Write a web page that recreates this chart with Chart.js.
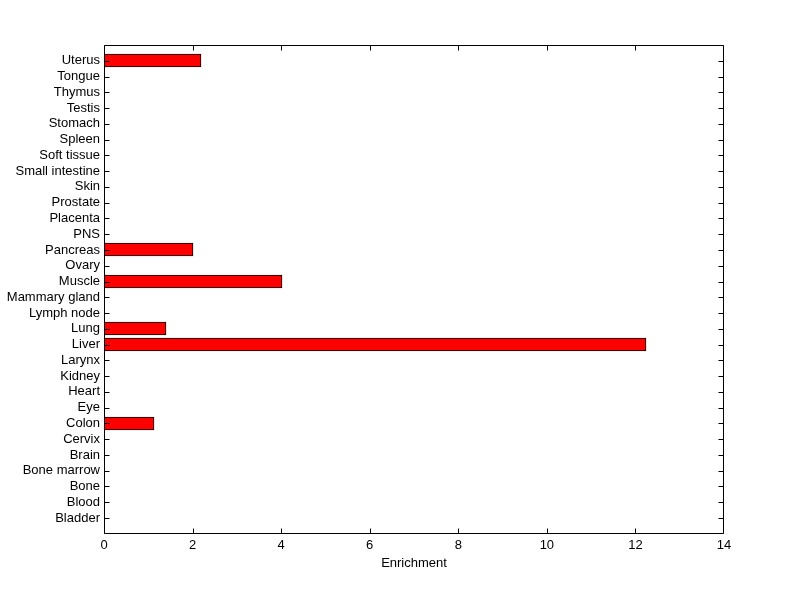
<!DOCTYPE html>
<html>
<head>
<meta charset="utf-8">
<script src="https://cdn.jsdelivr.net/npm/chart.js@4/dist/chart.umd.min.js"></script>
<style>
  html, body { margin: 0; background: #fff; }
  #wrap { width: 800px; height: 599px; }
</style>
</head>
<body>
<div id="wrap"><canvas id="enrichmentChart"></canvas></div>
<script>
// tissues listed bottom to top, as on the picture
const tissues = ['Bladder', 'Blood', 'Bone', 'Bone marrow', 'Brain', 'Cervix', 'Colon', 'Eye', 'Heart',
    'Kidney', 'Larynx', 'Liver', 'Lung', 'Lymph node', 'Mammary gland', 'Muscle', 'Ovary', 'Pancreas',
    'PNS', 'Placenta', 'Prostate', 'Skin', 'Small intestine', 'Soft tissue', 'Spleen', 'Stomach',
    'Testis', 'Thymus', 'Tongue', 'Uterus'];
const enrichment = [0, 0, 0, 0, 0, 0, 1.12, 0, 0, 0, 0, 12.23, 1.39, 0, 0, 4.01, 0, 2.02,
    0, 0, 0, 0, 0, 0, 0, 0, 0, 0, 0, 2.20];
const xMin = 0;
const xMax = 14;
const xStep = 2;

// one empty slot at each end, like the matlab axis limits
const labels = [''].concat(tissues, ['']);
const values = [null].concat(enrichment, [null]);

const FONT = { family: 'Liberation Sans, Arial, sans-serif', size: 13 };

// snap bars to whole pixels so the black outline stays crisp
const snapBars = {
    id: 'snapBars',
    beforeDatasetsDraw(chart) {
        chart.getDatasetMeta(0).data.forEach(bar => {
            bar.y = Math.round(bar.y - 0.5) + 0.5;
            bar.x = Math.round(bar.x);
            bar.base = Math.round(bar.base);
        });
    }
};

// box around the plot with ticks pointing inward on all four sides
const boxTicks = {
    id: 'boxTicks',
    afterDatasetsDraw(chart) {
        const { ctx, chartArea: a, scales: { x, y } } = chart;
        const len = 5;
        const L = Math.round(a.left) + 0.5, R = Math.round(a.right) - 0.5;
        const T = Math.round(a.top) + 0.5, B = Math.round(a.bottom) - 0.5;
        ctx.save();
        ctx.strokeStyle = '#000';
        ctx.lineWidth = 1;
        ctx.beginPath();
        ctx.rect(L, T, R - L, B - T);
        x.ticks.forEach((t, i) => {
            const px = Math.min(Math.round(x.getPixelForTick(i)) + 0.5, R);
            ctx.moveTo(px, B); ctx.lineTo(px, B - len);
            ctx.moveTo(px, T); ctx.lineTo(px, T + len);
        });
        y.ticks.forEach((t, i) => {
            if (!labels[t.value]) return;
            const py = Math.round(y.getPixelForTick(i)) + 0.5;
            ctx.moveTo(L, py); ctx.lineTo(L + len, py);
            ctx.moveTo(R, py); ctx.lineTo(R - len, py);
        });
        ctx.stroke();
        ctx.restore();
    }
};

new Chart(document.getElementById('enrichmentChart'), {
    type: 'bar',
    data: {
        labels: labels,
        datasets: [{
            data: values,
            backgroundColor: '#ff0000',
            borderColor: '#000',
            borderWidth: 1,
            borderSkipped: false,
            barThickness: 13
        }]
    },
    options: {
        indexAxis: 'y',
        responsive: true,
        maintainAspectRatio: false,
        animation: false,
        layout: { padding: { top: 45, right: 76, left: 0, bottom: 28 } },
        plugins: { legend: { display: false }, tooltip: { enabled: false } },
        scales: {
            x: {
                type: 'linear',
                min: xMin,
                max: xMax,
                grid: { display: false, drawTicks: false, tickLength: 0 },
                border: { display: false },
                ticks: { stepSize: xStep, color: '#000', font: FONT, padding: 4, maxRotation: 0 },
                title: { display: true, text: 'Enrichment', color: '#000', font: FONT, padding: { top: -2, bottom: 0 } }
            },
            y: {
                type: 'category',
                reverse: true,
                offset: false,
                grid: { display: false, drawTicks: false, tickLength: 0 },
                border: { display: false },
                ticks: { autoSkip: false, color: '#000', font: FONT, padding: 4 },
                afterFit: (s) => { s.width = 104; }
            }
        }
    },
    plugins: [snapBars, boxTicks]
});
</script>
</body>
</html>
